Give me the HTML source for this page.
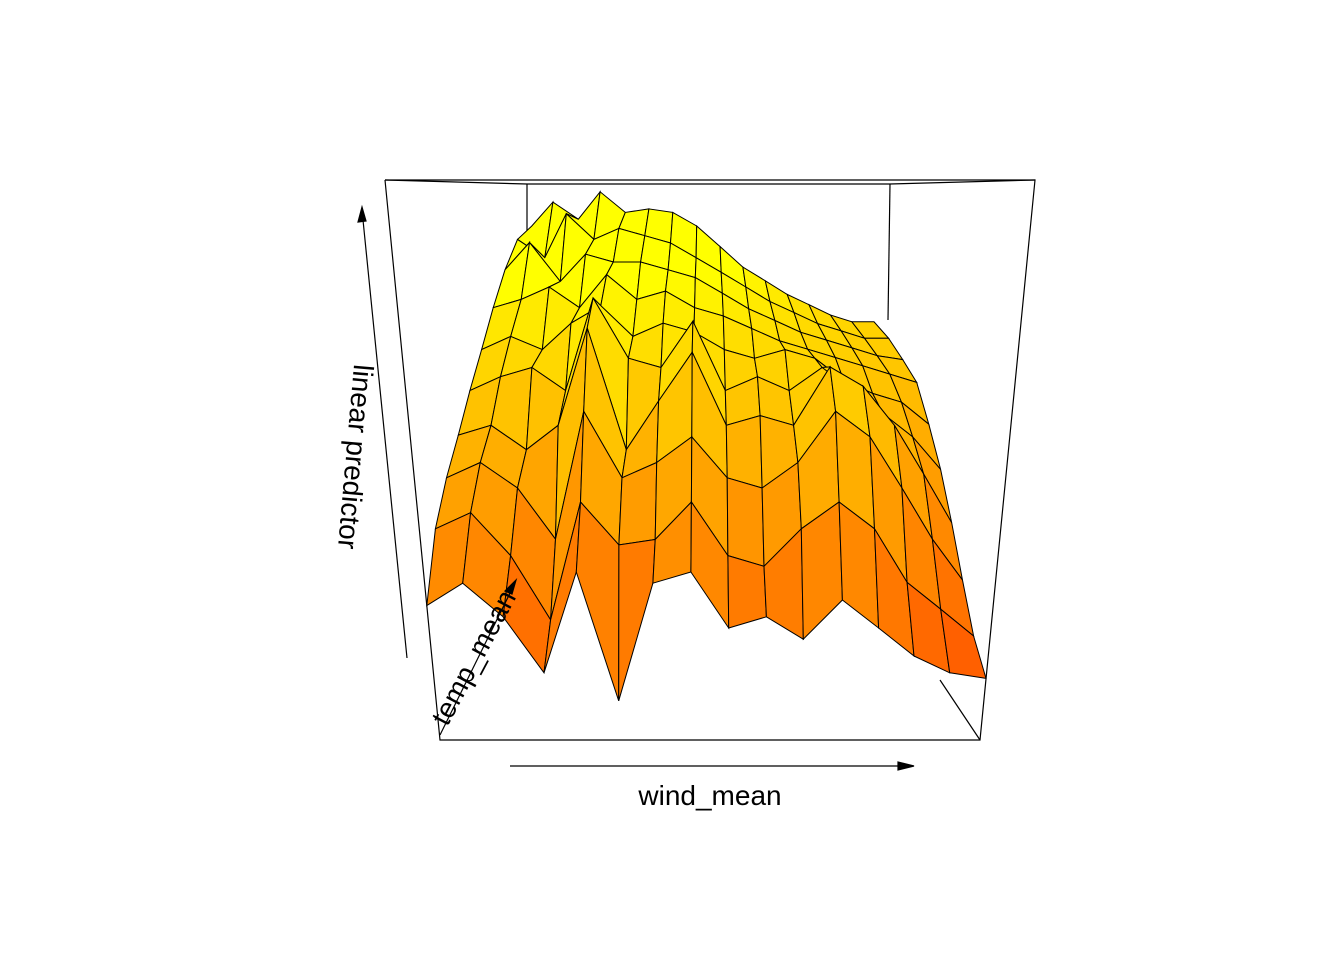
<!DOCTYPE html>
<html><head><meta charset="utf-8"><style>
html,body{margin:0;padding:0;background:#fff;}
svg{display:block;font-family:"Liberation Sans",sans-serif;}
</style></head><body>
<svg id="chart" width="1344" height="960" viewBox="0 0 1344 960">
<g stroke="#000" stroke-width="1.2" fill="none">
<line x1="527" y1="184" x2="527" y2="527"/>
<line x1="890" y1="184" x2="888" y2="320"/>
<line x1="385" y1="180" x2="527" y2="184"/>
<line x1="1035" y1="180" x2="890" y2="184"/>
<line x1="527" y1="184" x2="890" y2="184"/>
<line x1="980" y1="740" x2="940" y2="680"/>
</g>
<g id="surface"></g>
<g id="box" stroke="#000" stroke-width="1.2" fill="none">
<polyline points="385,180 1035,180 980,740 440,740 385,180"/>
</g>
<g stroke="#000" stroke-width="1.2">
<line x1="407" y1="658" x2="362" y2="210"/>
<polygon points="362,207 358,222 366,221" fill="#000"/>
</g>
<g stroke="#000" stroke-width="1.2">
<line x1="510" y1="766" x2="912" y2="766"/>
<polygon points="914,766 898,762 898,770" fill="#000"/>
</g>
<g stroke="#000" stroke-width="1.2">
<line x1="440" y1="735" x2="515" y2="583"/>
<polygon points="516,580 505,591 512,594" fill="#000"/>
</g>
<text x="0" y="0" font-size="28" text-anchor="middle" transform="translate(346,456) rotate(95)">linear predictor</text>
<text x="710" y="805" font-size="28" text-anchor="middle">wind_mean</text>
<text x="0" y="0" font-size="28" text-anchor="middle" transform="translate(482,662) rotate(-62)">temp_mean</text>
</svg>
<script>
// rows: temp_mean from front (low) to back (high); columns: wind_mean low -> high
const windSteps = 16;
const tempSteps = 10;
const row0 = [0.24,0.28,0.22,0.12,0.30,0.07,0.28,0.30,0.20,0.22,0.18,0.25,0.20,0.15,0.12,0.11];
const row1 = [0.35,0.38,0.30,0.18,0.40,0.32,0.33,0.40,0.30,0.28,0.35,0.40,0.35,0.25,0.20,0.15];
const row2 = [0.42,0.45,0.40,0.30,0.55,0.42,0.45,0.50,0.42,0.40,0.45,0.55,0.50,0.40,0.30,0.22];
const row3 = [0.48,0.50,0.45,0.50,0.70,0.45,0.55,0.65,0.50,0.52,0.50,0.62,0.58,0.50,0.40,0.30];
const row4 = [0.55,0.58,0.60,0.55,0.75,0.62,0.60,0.70,0.55,0.58,0.55,0.60,0.55,0.50,0.45,0.38];
const row5 = [0.62,0.65,0.62,0.68,0.72,0.65,0.68,0.66,0.62,0.60,0.62,0.60,0.55,0.52,0.50,0.45];
const row6 = [0.70,0.72,0.75,0.70,0.78,0.72,0.74,0.70,0.68,0.65,0.62,0.60,0.58,0.56,0.54,0.52];
const row7 = [0.78,0.85,0.75,0.82,0.80,0.80,0.78,0.76,0.72,0.68,0.65,0.62,0.60,0.58,0.56,0.55];
const row8 = [0.85,0.80,0.92,0.85,0.88,0.86,0.84,0.80,0.76,0.72,0.68,0.65,0.62,0.60,0.58,0.58];
const row9 = [0.88,0.95,0.90,0.98,0.92,0.93,0.92,0.88,0.82,0.76,0.72,0.68,0.65,0.62,0.60,0.60];
const zRows = [row0,row1,row2,row3,row4,row5,row6,row7,row8,row9];

function lerp(a,b,t){return a+(b-a)*t;}
function project(u,v,z){
  const fbL=lerp(440,385,z), fbR=lerp(980,1035,z), fy=lerp(740,180,z);
  const bbL=lerp(567,527,z), bbR=lerp(850,890,z), by=lerp(527,185,z);
  const L=lerp(fbL,bbL,v), R=lerp(fbR,bbR,v), y=lerp(fy,by,v);
  return [lerp(L,R,u), y];
}
function heat(z){
  const h = Math.min(60, 14 + Math.max(0,z)*60);
  return "hsl("+h.toFixed(1)+",100%,50%)";
}
const g = document.getElementById('surface');
const NS = "http://www.w3.org/2000/svg";
for(let r=zRows.length-2;r>=0;r--){
  for(let c=0;c<zRows[r].length-1;c++){
    const pts=[[c,r],[c+1,r],[c+1,r+1],[c,r+1]].map(([ci,ri])=>project(ci/(windSteps-1),ri/(tempSteps-1),zRows[ri][ci]));
    const avg=(zRows[r][c]+zRows[r][c+1]+zRows[r+1][c]+zRows[r+1][c+1])/4;
    const p=document.createElementNS(NS,'polygon');
    p.setAttribute('points',pts.map(q=>q[0].toFixed(1)+','+q[1].toFixed(1)).join(' '));
    p.setAttribute('fill',heat(avg));
    p.setAttribute('stroke','#000');
    p.setAttribute('stroke-width','1');
    
    
    g.appendChild(p);
  }
}
</script>
</body></html>
